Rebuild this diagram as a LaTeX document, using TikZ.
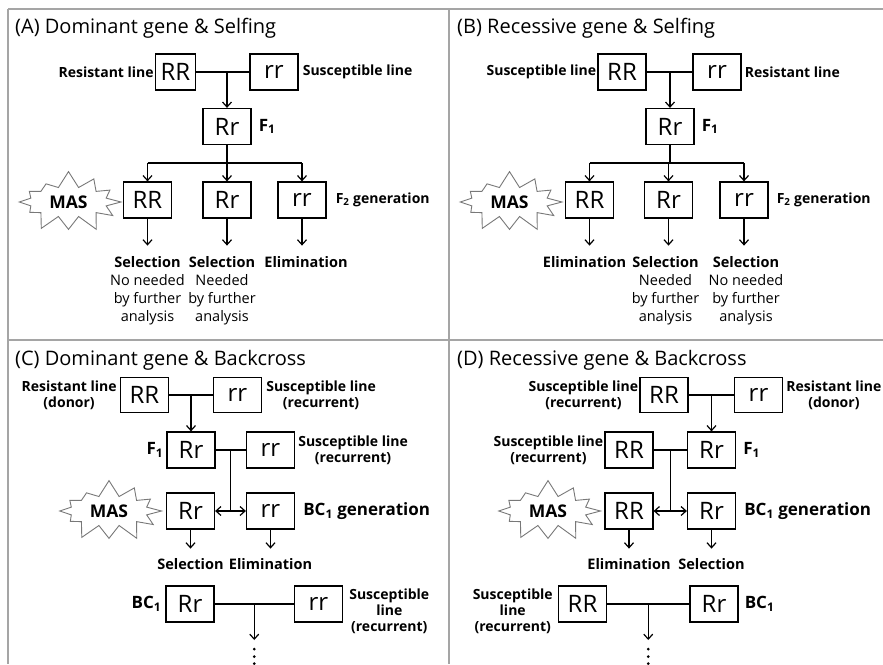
\documentclass[tikz,border=0pt]{standalone}
\usepackage{fontspec}
\setmainfont{Open Sans}
\usetikzlibrary{arrows.meta,shapes.symbols,calc}

\definecolor{framegray}{RGB}{165,165,165}
\definecolor{burstgray}{RGB}{120,120,120}

\tikzset{
    geno/.style={draw, line width=1.2pt, minimum width=48pt, minimum height=36pt, inner sep=0pt,
        font=\fontsize{24}{24}\selectfont},
    lbl/.style={font=\bfseries\fontsize{14}{16}\selectfont, inner sep=1pt, align=center},
    note/.style={font=\fontsize{14.5}{18}\selectfont, inner sep=0pt, align=center, anchor=north},
    gen/.style={font=\bfseries\fontsize{17}{18}\selectfont, inner sep=1pt},
    ttl/.style={font=\fontsize{20}{20}\selectfont, inner sep=0pt, anchor=base west},
    mas/.style={starburst, draw=burstgray, line width=0.9pt, fill=white, starburst points=12,
        starburst point height=17pt, random starburst=7, minimum width=112pt, minimum height=64pt,
        inner sep=0pt, font=\bfseries\fontsize{17.5}{18}\selectfont},
    arr/.style={-{Straight Barb[length=5pt,width=9pt]}, line width=1.2pt},
    dbl/.style={{Straight Barb[length=5pt,width=9pt]}-{Straight Barb[length=5pt,width=9pt]}, line width=1.2pt},
    link/.style={line width=1.2pt},
    frame/.style={draw=framegray, line width=2pt}
}

\begin{document}
\begin{tikzpicture}[x=1pt,y=-1pt]
    \useasboundingbox (0,0) rectangle (883,664);
    \fill[white] (0,0) rectangle (883,664);

    \draw[frame] (8,9) -- (883,9);
    \draw[frame] (8,9) -- (8,664);
    \draw[frame] (449,9) -- (449,664);
    \draw[frame] (8,340) -- (883,340);

    % (A)
    \node[ttl] (tA) at (15,33) {(A) Dominant gene \& Selfing};
    \node[geno, minimum width=40pt] (aP1) at (175.5,72) {RR};
    \node[geno] (aP2) at (274,72) {rr};
    \node[geno] (aF1) at (227,126.5) {Rr};
    \node[lbl, anchor=east] (aL1) at (aP1.west) {Resistant line};
    \node[lbl, anchor=west] (aL2) at ([xshift=3pt]aP2.east) {Susceptible line};
    \node[gen, anchor=west] (aN1) at ([xshift=6pt]aF1.east) {F\textsubscript{1}};
    \draw[link] (aP1.east) -- (aP2.west);
    \draw[arr] (aF1 |- aP1) -- (aF1.north);
    \foreach \g/\x/\n in {RR/147.5/1, Rr/227/2, rr/302/3}
        \node[geno] (aS\n) at (\x,200) {\g};
    \coordinate (aB) at (227,163);
    \draw[link] (aF1.south) -- (aB);
    \draw[link] (aS1 |- aB) -- (aS3 |- aB);
    \foreach \n in {1,2,3}
        \draw[arr] (aS\n |- aB) -- (aS\n.north);
    \node[lbl, anchor=west] (aN2) at ([xshift=8pt]aS3.east) {F\textsubscript{2} generation};
    \node[mas] (aM) at (68.5,202) {MAS};
    \node[note] (aO1) at ([yshift=-38pt]aS1.south) {\textbf{Selection}\\No needed\\by further\\analysis};
    \node[note] (aO2) at ([xshift=-5pt,yshift=-38pt]aS2.south) {\textbf{Selection}\\Needed\\by further\\analysis};
    \node[note] (aO3) at ([xshift=4pt,yshift=-38pt]aS3.south) {\textbf{Elimination}};
    \foreach \n in {1,2,3}
        \draw[arr] (aS\n.south) -- ([yshift=11pt]aS\n.south |- aO\n.north);

    % (B)
    \node[ttl] (tB) at (457,33) {(B) Recessive gene \& Selfing};
    \node[geno] (bP1) at (622,72) {RR};
    \node[geno] (bP2) at (717,72) {rr};
    \node[geno] (bF1) at (670,126.5) {Rr};
    \node[lbl, anchor=east] (bL1) at (bP1.west) {Susceptible line};
    \node[lbl, anchor=west] (bL2) at ([xshift=2pt]bP2.east) {Resistant line};
    \node[gen, anchor=west] (bN1) at ([xshift=6pt]bF1.east) {F\textsubscript{1}};
    \draw[link] (bP1.east) -- (bP2.west);
    \draw[arr] (bF1 |- bP1) -- (bF1.north);
    \foreach \g/\x/\n in {RR/589.5/1, Rr/668.5/2, rr/744/3}
        \node[geno] (bS\n) at (\x,200) {\g};
    \coordinate (bB) at (670,163);
    \draw[link] (bF1.south) -- (bB);
    \draw[link] (bS1 |- bB) -- (bS3 |- bB);
    \foreach \n in {1,2,3}
        \draw[arr] (bS\n |- bB) -- (bS\n.north);
    \node[lbl, anchor=west] (bN2) at ([xshift=7pt]bS3.east) {F\textsubscript{2} generation};
    \node[mas] (bM) at (509.5,202) {MAS};
    \node[note] (bO1) at ([xshift=-5pt,yshift=-38pt]bS1.south) {\textbf{Elimination}};
    \node[note] (bO2) at ([xshift=-3pt,yshift=-38pt]bS2.south) {\textbf{Selection}\\Needed\\by further\\analysis};
    \node[note] (bO3) at ([xshift=2pt,yshift=-38pt]bS3.south) {\textbf{Selection}\\No needed\\by further\\analysis};
    \foreach \n in {1,2,3}
        \draw[arr] (bS\n.south) -- ([yshift=11pt]bS\n.south |- bO\n.north);

    % (C)
    \node[ttl] (tC) at (15,365) {(C) Dominant gene \& Backcross};
    \node[geno, minimum height=35pt] (cP1) at (144.5,395) {RR};
    \node[geno, minimum height=35pt] (cP2) at (237.5,395) {rr};
    \node[geno] (cF1) at (191,450) {Rr};
    \node[geno] (cR1) at (270.5,450) {rr};
    \node[lbl, anchor=east] (cL1) at ([xshift=-2pt]cP1.west) {Resistant line\\(donor)};
    \node[lbl, anchor=west] (cL2) at ([xshift=3pt]cP2.east) {Susceptible line\\(recurrent)};
    \node[lbl, anchor=west] (cL3) at ([xshift=2pt]cR1.east) {Susceptible line\\(recurrent)};
    \node[gen, anchor=east] (cN1) at ([xshift=-2pt]cF1.west) {F\textsubscript{1}};
    \draw[link] (cP1.east) -- (cP2.west);
    \draw[arr] (cF1 |- cP1) -- (cF1.north);
    \node[geno] (cB1) at (190.5,511) {Rr};
    \node[geno] (cB2) at (270.5,511) {rr};
    \coordinate (cJ) at ($(cF1.east)!0.5!(cR1.west)$);
    \draw[link] (cF1.east) -- (cR1.west);
    \draw[link] (cJ) -- (cJ |- cB1);
    \draw[dbl] (cB1.east) -- (cB2.west);
    \node[mas] (cM) at (109,511) {MAS};
    \node[gen, anchor=west] (cN2) at ([xshift=7pt]cB2.east) {BC\textsubscript{1} generation};
    \node[note] (cO1) at ([yshift=-29pt]cB1.south) {\textbf{Selection}};
    \node[note] (cO2) at ([yshift=-29pt]cB2.south) {\textbf{Elimination}};
    \foreach \n in {1,2}
        \draw[arr] (cB\n.south) -- ([yshift=10pt]cO\n.north);
    \node[geno] (cD1) at (190,604) {Rr};
    \node[geno] (cD2) at (318.5,604) {rr};
    \node[gen, anchor=east] (cN3) at ([xshift=-3pt]cD1.west) {BC\textsubscript{1}};
    \node[lbl, anchor=north west] (cL4) at ([xshift=5pt,yshift=-2pt]cD2.north east) {Susceptible\\line\\(recurrent)};
    \coordinate (cK) at ($(cD1.east)!0.5!(cD2.west)$);
    \coordinate (cE) at ([yshift=-36pt]cK);
    \draw[link] (cD1.east) -- (cD2.west);
    \draw[arr] (cK) -- (cE);
    \foreach \d in {9,16.5,23.5}
        \fill ([yshift=-\d pt]cE) circle (1.5pt);

    % (D)
    \node[ttl] (tD) at (457,365) {(D) Recessive gene \& Backcross};
    \node[geno, minimum height=35pt] (dP1) at (664,395) {RR};
    \node[geno, minimum height=35pt] (dP2) at (758.5,395) {rr};
    \node[geno] (dF1) at (711.5,450) {Rr};
    \node[geno] (dR1) at (629,450) {RR};
    \node[lbl, anchor=east] (dL1) at (dP1.west) {Susceptible line\\(recurrent)};
    \node[lbl, anchor=west] (dL2) at ([xshift=2pt]dP2.east) {Resistant line\\(donor)};
    \node[lbl, anchor=east] (dL3) at (dR1.west) {Susceptible line\\(recurrent)};
    \node[gen, anchor=west] (dN1) at ([xshift=6pt]dF1.east) {F\textsubscript{1}};
    \draw[link] (dP1.east) -- (dP2.west);
    \draw[arr] (dF1 |- dP1) -- (dF1.north);
    \node[geno] (dB1) at (629,511) {RR};
    \node[geno] (dB2) at (711.5,511) {Rr};
    \coordinate (dJ) at ($(dR1.east)!0.5!(dF1.west)$);
    \draw[link] (dR1.east) -- (dF1.west);
    \draw[link] (dJ) -- (dJ |- dB1);
    \draw[dbl] (dB1.east) -- (dB2.west);
    \node[mas] (dM) at (548,511) {MAS};
    \node[gen, anchor=west] (dN2) at ([xshift=7pt]dB2.east) {BC\textsubscript{1} generation};
    \node[note] (dO1) at ([yshift=-29pt]dB1.south) {\textbf{Elimination}};
    \node[note] (dO2) at ([yshift=-29pt]dB2.south) {\textbf{Selection}};
    \foreach \n in {1,2}
        \draw[arr] (dB\n.south) -- ([yshift=10pt]dO\n.north);
    \node[geno] (dD1) at (582.5,604) {RR};
    \node[geno] (dD2) at (714,604) {Rr};
    \node[gen, anchor=west] (dN3) at ([xshift=5pt]dD2.east) {BC\textsubscript{1}};
    \node[lbl, anchor=north east] (dL4) at ([xshift=-4pt,yshift=-2pt]dD1.north west) {Susceptible\\line\\(recurrent)};
    \coordinate (dK) at ($(dD1.east)!0.5!(dD2.west)$);
    \coordinate (dE) at ([yshift=-36pt]dK);
    \draw[link] (dD1.east) -- (dD2.west);
    \draw[arr] (dK) -- (dE);
    \foreach \d in {9,16.5,23.5}
        \fill ([yshift=-\d pt]dE) circle (1.5pt);
\end{tikzpicture}
\end{document}
